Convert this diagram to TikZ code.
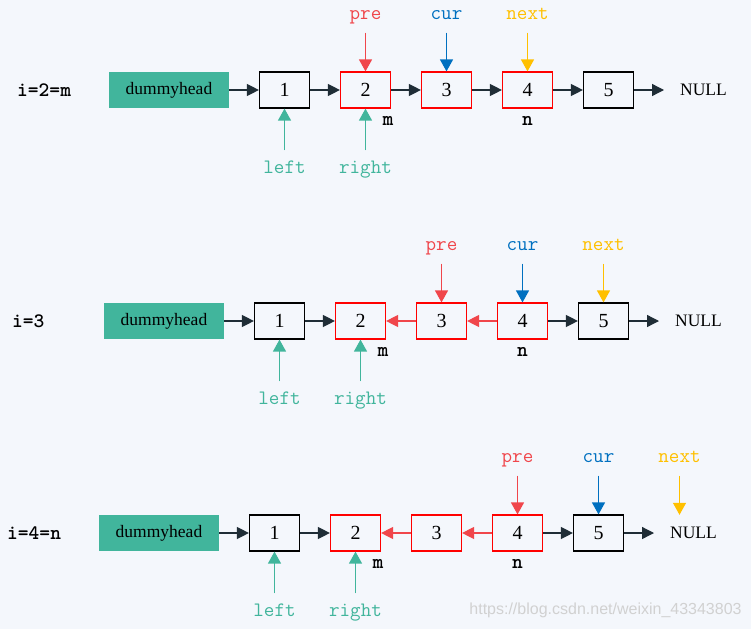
\documentclass[tikz,border=0pt]{standalone}
\usepackage{fontspec}
\setmainfont{Liberation Serif}
\newfontfamily\wmfont{Liberation Sans}
\usetikzlibrary{arrows.meta}
\definecolor{bgc}{HTML}{F4F7FC}
\definecolor{tealc}{HTML}{41B59C}
\definecolor{redc}{HTML}{F0464B}
\definecolor{boxred}{HTML}{FF0000}
\definecolor{bluec}{HTML}{0070C0}
\definecolor{yelc}{HTML}{FFC000}
\definecolor{darkc}{HTML}{1F2D36}
\tikzset{
  blkbox/.style={draw=black, line width=1.2pt, minimum width=50pt, minimum height=36pt, inner sep=0pt, font=\fontsize{20}{20}\selectfont},
  redbox/.style={blkbox, draw=boxred},
  dummy/.style={fill=tealc, minimum width=120pt, minimum height=36pt, inner sep=0pt, font=\fontsize{17.5}{17.5}\selectfont},
  nulltxt/.style={minimum height=36pt, inner sep=0pt, font=\fontsize{17.5}{17.5}\selectfont},
  link/.style={draw=darkc, line width=1.3pt, -{Triangle[length=12pt,width=12pt]}},
  backlink/.style={link, draw=redc},
  ptr/.style={line width=1.3pt, -{Triangle[length=12pt,width=13pt]}},
  lbl/.style={font=\ttfamily\fontsize{20.5}{20.5}\selectfont, inner sep=0pt, text height=9pt, text depth=0pt, minimum height=36pt},
  rowlbl/.style={font=\ttfamily\bfseries\fontsize{20.5}{20.5}\selectfont, anchor=west, inner sep=0pt},
  mn/.style={font=\ttfamily\bfseries\fontsize{20.5}{20.5}\selectfont, inner sep=0pt, text height=9pt, text depth=0pt},
}
\begin{document}
\begin{tikzpicture}[x=1pt,y=-1pt]
\fill[bgc] (0,0) rectangle (751,629);
\useasboundingbox (0,0) rectangle (751,629);

% ---------- Row 1 ----------
\node[rowlbl] (ia) at (17,90) {i=2=m};
\node[dummy] (da) at (169,90) {dummyhead};
\node[blkbox] (a1) at (284.5,90) {1};
\node[redbox] (a2) at (365.5,90) {2};
\node[redbox] (a3) at (446.5,90) {3};
\node[redbox] (a4) at (527.5,90) {4};
\node[blkbox] (a5) at (608.5,90) {5};
\node[nulltxt, anchor=west] (na) at (680,90) {NULL};
\draw[link] (da) -- (a1);
\draw[link] (a1) -- (a2);
\draw[link] (a2) -- (a3);
\draw[link] (a3) -- (a4);
\draw[link] (a4) -- (a5);
\draw[link, shorten >=16pt] (a5) -- (na);
\node[lbl, text=redc] (pa) at (365.5,14.5) {pre};
\node[lbl, text=bluec] (ca) at (446.5,14.5) {cur};
\node[lbl, text=yelc] (xa) at (527.5,14.5) {next};
\draw[ptr, redc] (pa) -- (a2);
\draw[ptr, bluec] (ca) -- (a3);
\draw[ptr, yelc] (xa) -- (a4);
\node[lbl, text=tealc] (la) at (284.5,168.5) {left};
\node[lbl, text=tealc] (ra) at (365.5,168.5) {right};
\draw[ptr, tealc] (la) -- (a1);
\draw[ptr, tealc] (ra) -- (a2);
\node[mn] (ma) at (388,120.5) {m};
\node[mn] (nna) at (527.5,120.5) {n};

% ---------- Row 2 ----------
\node[rowlbl] (ib) at (12,321) {i=3};
\node[dummy] (db) at (164,321) {dummyhead};
\node[blkbox] (b1) at (279.5,321) {1};
\node[redbox] (b2) at (360.5,321) {2};
\node[redbox] (b3) at (441.5,321) {3};
\node[redbox] (b4) at (522.5,321) {4};
\node[blkbox] (b5) at (603.5,321) {5};
\node[nulltxt, anchor=west] (nb) at (675,321) {NULL};
\draw[link] (db) -- (b1);
\draw[link] (b1) -- (b2);
\draw[backlink] (b3) -- (b2);
\draw[backlink] (b4) -- (b3);
\draw[link] (b4) -- (b5);
\draw[link, shorten >=16pt] (b5) -- (nb);
\node[lbl, text=redc] (pb) at (441.5,245.5) {pre};
\node[lbl, text=bluec] (cb) at (522.5,245.5) {cur};
\node[lbl, text=yelc] (xb) at (603.5,245.5) {next};
\draw[ptr, redc] (pb) -- (b3);
\draw[ptr, bluec] (cb) -- (b4);
\draw[ptr, yelc] (xb) -- (b5);
\node[lbl, text=tealc] (lb) at (279.5,399.5) {left};
\node[lbl, text=tealc] (rb) at (360.5,399.5) {right};
\draw[ptr, tealc] (lb) -- (b1);
\draw[ptr, tealc] (rb) -- (b2);
\node[mn] (mb) at (383,351.5) {m};
\node[mn] (nnb) at (522.5,351.5) {n};

% ---------- Row 3 ----------
\node[rowlbl] (ic) at (7,533) {i=4=n};
\node[dummy] (dc) at (159,533) {dummyhead};
\node[blkbox] (c1) at (274.5,533) {1};
\node[redbox] (c2) at (355.5,533) {2};
\node[redbox] (c3) at (436.5,533) {3};
\node[redbox] (c4) at (517.5,533) {4};
\node[blkbox] (c5) at (598.5,533) {5};
\node[nulltxt, anchor=west] (nc) at (670,533) {NULL};
\draw[link] (dc) -- (c1);
\draw[link] (c1) -- (c2);
\draw[backlink] (c3) -- (c2);
\draw[backlink] (c4) -- (c3);
\draw[link] (c4) -- (c5);
\draw[link, shorten >=16pt] (c5) -- (nc);
\node[lbl, text=redc] (pc) at (517.5,457.5) {pre};
\node[lbl, text=bluec] (cc) at (598.5,457.5) {cur};
\node[lbl, text=yelc] (xc) at (679.5,457.5) {next};
\draw[ptr, redc] (pc) -- (c4);
\draw[ptr, bluec] (cc) -- (c5);
\draw[ptr, yelc] (xc) -- (xc |- nc.north);
\node[lbl, text=tealc] (lc) at (274.5,611.5) {left};
\node[lbl, text=tealc] (rc) at (355.5,611.5) {right};
\draw[ptr, tealc] (lc) -- (c1);
\draw[ptr, tealc] (rc) -- (c2);
\node[mn] (mc) at (378,563.5) {m};
\node[mn] (nnc) at (517.5,563.5) {n};

% watermark
\node[font=\wmfont\fontsize{16}{16}\selectfont, text=black!18, inner sep=0pt] (wm) at (605.5,610) {https://blog.csdn.net/weixin\_43343803};
\end{tikzpicture}
\end{document}
